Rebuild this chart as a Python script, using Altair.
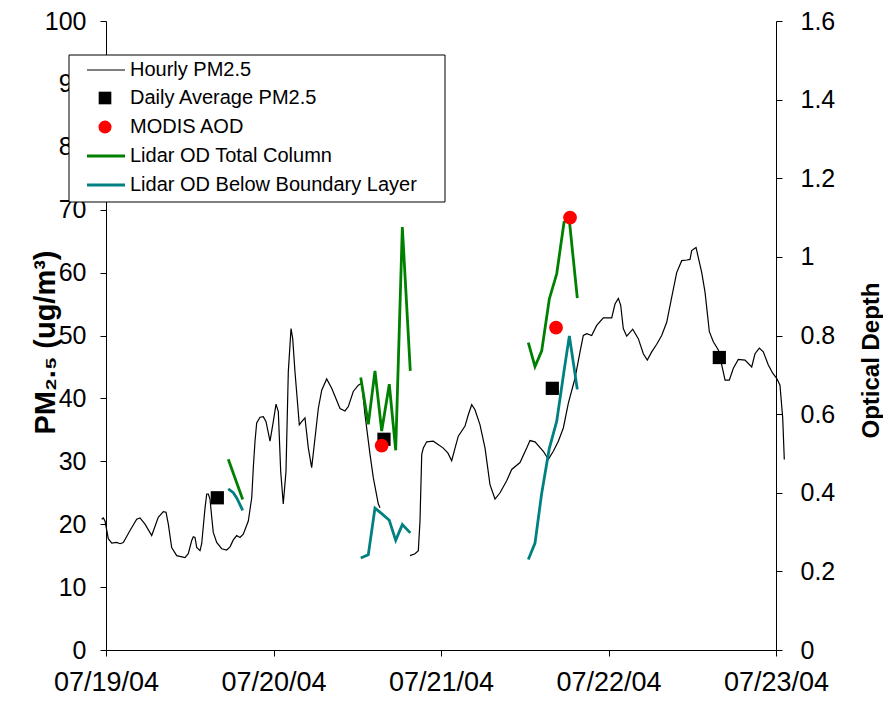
import altair as alt
import pandas as pd

START = pd.Timestamp("2004-07-19 00:00:00")

# ---------------- data (hours since 07/19/04 00:00) ----------------
pm_hours_a = [-0.62, -0.39, -0.14, 0.33, 0.82, 1.53, 2.01, 2.48, 3.44, 4.40, 4.87, 5.59, 6.55, 7.49,
              8.21, 8.60, 8.93, 9.41, 10.13, 11.32, 11.79, 12.28, 12.51, 12.75, 13.00, 13.47, 13.71,
              14.19, 14.43, 14.66, 14.90, 15.15, 15.37, 15.86, 16.58, 17.29, 17.77, 18.24, 18.73,
              19.20, 19.67, 20.39, 20.88, 21.11, 21.35, 21.59, 22.07, 22.54, 22.93, 23.50, 23.97,
              24.36, 24.69, 25.03, 25.40, 25.79, 26.12, 26.51, 26.75, 27.08, 27.70, 28.04, 28.51,
              28.99, 29.47, 29.95, 30.42, 30.91, 31.62, 32.34, 33.53, 34.24, 34.72, 35.43, 36.15,
              36.64, 37.11, 37.83, 38.30, 39.02, 39.26]
pm_vals_a = [20.8, 21.0, 20.5, 17.7, 17.0, 17.1, 16.9, 17.1, 19.0, 20.8, 21.0, 20.0, 18.2, 21.1,
             22.0, 21.9, 20.0, 16.3, 15.0, 14.7, 15.3, 17.4, 18.0, 17.9, 16.3, 15.8, 16.9,
             22.6, 24.8, 24.8, 24.0, 21.1, 18.7, 17.1, 16.1, 15.9, 16.4, 17.5, 18.2,
             17.9, 18.4, 20.5, 24.2, 29.0, 33.2, 36.1, 37.0, 37.1, 36.3, 33.2, 36.3,
             39.1, 37.9, 28.4, 23.2, 28.4, 44.2, 51.1, 49.5, 44.2, 35.8, 36.3, 36.9,
             32.1, 29.0, 33.7, 38.4, 41.3, 43.1, 41.6, 38.4, 38.0, 38.7, 41.1, 42.1,
             42.4, 37.4, 31.1, 27.4, 23.2, 22.6]

pm_hours_b = [43.56, 44.28, 44.75, 44.99, 45.24, 45.47, 45.95, 46.90, 48.33, 49.00, 49.53, 50.01,
              50.48, 51.44, 51.91, 52.40, 52.87, 53.59, 54.31, 55.02, 55.74, 56.46, 57.41, 58.13,
              59.32, 60.28, 60.75, 61.47, 62.66, 63.38, 64.09, 64.81, 65.53, 66.24, 67.20, 67.92,
              68.39, 68.88, 69.59, 70.31, 71.26, 72.46, 72.93, 73.41, 73.75, 74.12, 74.61, 75.47,
              76.27, 76.99, 77.56, 78.19, 78.91, 79.62, 80.34, 81.06, 81.77, 82.49, 83.21, 83.68,
              83.92, 84.54, 85.36, 85.83, 86.45, 87.02, 87.74, 88.23, 88.70, 89.31, 89.89, 90.60,
              91.56, 92.52, 92.99, 93.61, 94.18, 94.90, 95.53, 96.10, 96.57, 96.96, 97.19]
pm_vals_b = [15.0, 15.3, 15.8, 20.5, 31.1, 32.1, 33.1, 33.2, 32.1, 31.3, 30.1, 32.1,
             34.0, 35.6, 37.4, 39.0, 38.2, 35.8, 32.1, 26.3, 24.0, 25.0, 26.9, 28.7,
             29.8, 32.1, 33.3, 33.1, 31.6, 30.3, 31.6, 33.2, 35.3, 39.2, 43.2, 47.4,
             50.0, 50.3, 50.0, 51.6, 52.8, 52.8, 55.0, 55.9, 54.8, 51.1, 49.9, 51.0,
             49.5, 47.1, 46.1, 47.4, 48.6, 50.0, 52.1, 56.1, 60.0, 61.9, 62.0, 62.1,
             63.5, 64.0, 60.0, 56.9, 50.6, 49.0, 47.7, 45.3, 42.9, 42.9, 44.8, 46.2,
             46.1, 45.0, 47.1, 48.0, 47.4, 45.3, 44.0, 43.2, 42.1, 36.9, 30.3]

daily_hours = [15.95, 39.83, 63.95, 87.88]
daily_vals = [24.2, 33.5, 41.6, 46.5]

modis_hours = [39.50, 64.48, 66.49]
modis_aod = [0.52, 0.82, 1.10]

total_hours_1 = [17.52, 19.59]
total_od_1 = [0.485, 0.383]
total_hours_2 = [36.50, 37.58, 38.54, 39.50, 40.59, 41.51, 42.46, 43.60]
total_od_2 = [0.693, 0.574, 0.710, 0.557, 0.676, 0.508, 1.076, 0.710]
total_hours_3 = [60.51, 61.47, 62.43, 63.52, 64.58, 65.63, 66.39, 67.53]
total_od_3 = [0.782, 0.721, 0.761, 0.893, 0.957, 1.088, 1.093, 0.895]

below_hours_1 = [17.52, 18.24, 18.73, 19.59]
below_od_1 = [0.410, 0.400, 0.387, 0.355]
below_hours_2 = [36.50, 37.58, 38.54, 39.50, 40.59, 41.51, 42.46, 43.60]
below_od_2 = [0.234, 0.242, 0.361, 0.347, 0.330, 0.279, 0.319, 0.298]
below_hours_3 = [60.51, 61.47, 62.43, 63.52, 64.58, 65.63, 66.39, 67.53]
below_od_3 = [0.230, 0.272, 0.399, 0.513, 0.582, 0.710, 0.799, 0.663]

legend_labels = ["Hourly PM2.5", "Daily Average PM2.5", "MODIS AOD",
                 "Lidar OD Total Column", "Lidar OD Below Boundary Layer"]
date_ticks = [19, 20, 21, 22, 23]
pm_ticks = list(range(0, 101, 10))
od_ticks = [0, 0.2, 0.4, 0.6, 0.8, 1.0, 1.2, 1.4, 1.6]

FONT = "Liberation Sans"
GREEN = "#008000"
TEAL = "#008080"
RED = "#FF0000"


def frame(parts):
    rows = []
    for seg, (hours, vals) in enumerate(parts):
        for h, v in zip(hours, vals):
            rows.append({"t": START + pd.Timedelta(hours=h), "v": v, "seg": seg})
    return pd.DataFrame(rows)


hourly_df = frame([(pm_hours_a, pm_vals_a), (pm_hours_b, pm_vals_b)])
daily_df = frame([(daily_hours, daily_vals)])
modis_df = frame([(modis_hours, modis_aod)])
total_df = frame([(total_hours_1, total_od_1), (total_hours_2, total_od_2), (total_hours_3, total_od_3)])
below_df = frame([(below_hours_1, below_od_1), (below_hours_2, below_od_2), (below_hours_3, below_od_3)])

x_enc = alt.X(
    "t:T",
    scale=alt.Scale(domain=[alt.DateTime(year=2004, month=7, date=19),
                            alt.DateTime(year=2004, month=7, date=23)]),
    axis=alt.Axis(values=[alt.DateTime(year=2004, month=7, date=d) for d in date_ticks],
                  format="%m/%d/%y", title=None, labelFlush=False, labelOverlap=False,
                  tickSize=6, labelPadding=13, labelFontSize=27),
)

y_left = alt.Y(
    "v:Q",
    scale=alt.Scale(domain=[0, 100], nice=False),
    axis=alt.Axis(values=pm_ticks, title="PM₂.₅ (ug/m³)", titleFontSize=29,
                  titleFontWeight="bold", titleX=-61, titleY=321, titleBaseline="middle",
                  titleAngle=270, tickSize=6, labelPadding=14, labelFontSize=25),
)
y_right = alt.Y(
    "v:Q",
    scale=alt.Scale(domain=[0, 1.6], nice=False),
    axis=alt.Axis(values=od_ticks, format="~g", orient="right", title="Optical Depth",
                  titleFontSize=24, titleFontWeight="bold", titleX=95, titleY=339,
                  titleBaseline="middle", titleAngle=270, tickSize=6, labelPadding=18,
                  labelFontSize=25),
)

hourly = alt.Chart(hourly_df).mark_line(color="black", strokeWidth=1.2).encode(
    x=x_enc, y=y_left, detail="seg:N")
daily = alt.Chart(daily_df).mark_point(shape="square", filled=True, color="black",
                                       size=175, opacity=1).encode(x=x_enc, y=y_left)

total = alt.Chart(total_df).mark_line(color=GREEN, strokeWidth=2.8).encode(
    x=x_enc, y=y_right, detail="seg:N")
below = alt.Chart(below_df).mark_line(color=TEAL, strokeWidth=2.8).encode(
    x=x_enc, y=y_right, detail="seg:N")
modis = alt.Chart(modis_df).mark_point(shape="circle", filled=True, color=RED,
                                       size=190, opacity=1).encode(x=x_enc, y=y_right)

# ---------------- legend (drawn in plot-relative pixels) ----------------
one = pd.DataFrame({"k": [0]})
row_y = [49, 77, 106, 135, 164]
box = alt.Chart(one).mark_rect(fill="white", stroke="black", strokeWidth=1).encode(
    x=alt.value(-37), x2=alt.value(339), y=alt.value(34), y2=alt.value(181))
leg_hourly = alt.Chart(one).mark_rule(color="black", strokeWidth=1.2).encode(
    x=alt.value(-19), x2=alt.value(19), y=alt.value(row_y[0]))
leg_daily = alt.Chart(one).mark_point(shape="square", filled=True, color="black",
                                      size=160, opacity=1).encode(x=alt.value(-1), y=alt.value(row_y[1]))
leg_modis = alt.Chart(one).mark_point(shape="circle", filled=True, color=RED,
                                      size=170, opacity=1).encode(x=alt.value(-1), y=alt.value(row_y[2]))
leg_total = alt.Chart(one).mark_rule(color=GREEN, strokeWidth=2.8).encode(
    x=alt.value(-19), x2=alt.value(19), y=alt.value(row_y[3]))
leg_below = alt.Chart(one).mark_rule(color=TEAL, strokeWidth=2.8).encode(
    x=alt.value(-19), x2=alt.value(19), y=alt.value(row_y[4]))
leg_texts = [
    alt.Chart(one).mark_text(align="left", baseline="middle", fontSize=20, font=FONT,
                             color="black").encode(x=alt.value(24), y=alt.value(yy), text=alt.value(lab))
    for lab, yy in zip(legend_labels, row_y)
]

left = alt.layer(hourly, daily)
right = alt.layer(total, below, modis)
legend = alt.layer(box, leg_hourly, leg_daily, leg_modis, leg_total, leg_below, *leg_texts)

chart = (
    alt.layer(left, right, legend)
    .resolve_scale(y="independent")
    .properties(width=670, height=629, autosize="none",
                padding={"left": 98, "top": 13, "right": 107, "bottom": 47})
    .configure_view(stroke=None)
    .configure_axis(labelFont=FONT, titleFont=FONT, labelColor="black",
                    titleColor="black", domainColor="black", tickColor="black", grid=False,
                    domainWidth=1, tickWidth=1)
)

chart.save("out.html", embed_options={"renderer": "svg", "actions": False})
